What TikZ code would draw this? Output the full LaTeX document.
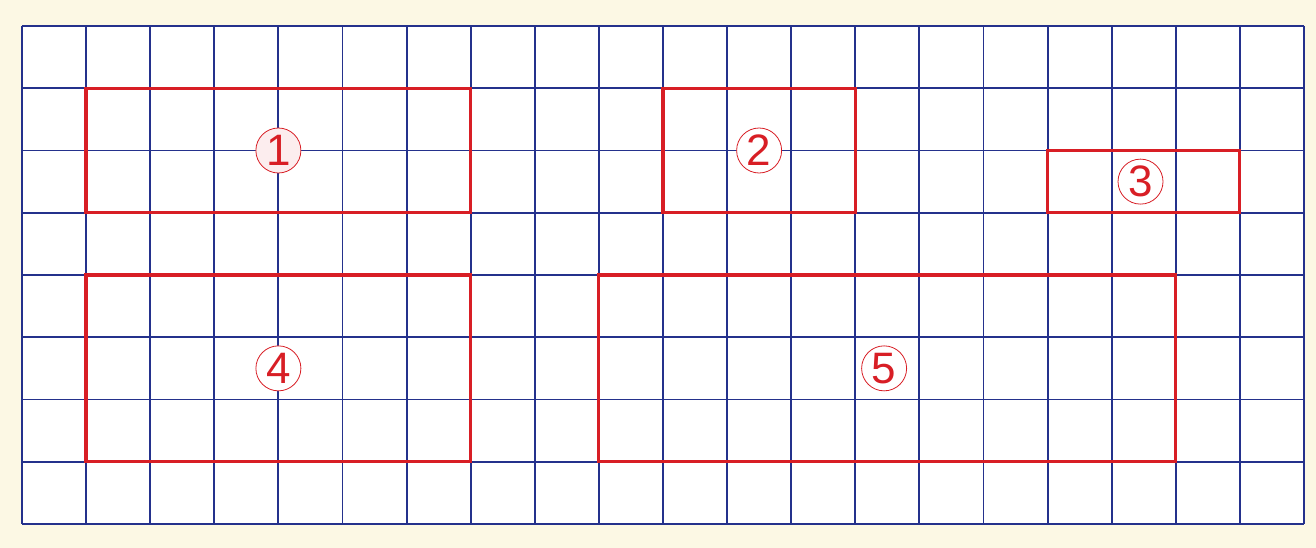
\documentclass[tikz,border=0pt]{standalone}
\usepackage{fontspec}
\newfontfamily\labelfont{Liberation Sans}
\definecolor{paper}{HTML}{FCF8E4}
\definecolor{gridblue}{HTML}{24318C}
\definecolor{boxred}{HTML}{D81E25}
\tikzset{
  gridline/.style={draw=gridblue, line width=1.9pt},
  redbox/.style={draw=boxred, line width=3.2pt},
  numlabel/.style={circle, draw=boxred, line width=0.8pt, text=boxred, font=\labelfont\fontsize{44}{44}\selectfont, minimum size=45pt, inner sep=0pt},
}
\begin{document}
\begin{tikzpicture}[x=64.1pt, y=-62.25pt]
  \useasboundingbox (-0.3432,-0.4177) rectangle (20.188,8.3855);
  \fill[paper] (-0.3432,-0.4177) rectangle (20.188,8.3855);
  \fill[white] (0,0) rectangle (20,8);
  % grid
  \foreach \i in {0,...,20} \draw[gridline] (\i,0) -- (\i,8);
  \foreach \j in {0,...,8} \draw[gridline] (0,\j) -- (20,\j);
  % red rectangles
  \draw[redbox] (1,1) rectangle (7,3);
  \draw[redbox] (10,1) rectangle (13,3);
  \draw[redbox] (16,2) rectangle (19,3);
  \draw[redbox] (1,4) rectangle (7,7);
  \draw[redbox] (9,4) rectangle (18,7);
  % labels
  \node[numlabel, fill=boxred!8] (n1) at (4,2) {1};
  \node[numlabel, fill=white] (n2) at (11.5,2) {2};
  \node[numlabel, fill=white] (n3) at (17.45,2.5) {3};
  \node[numlabel, fill=white] (n4) at (4,5.5) {4};
  \node[numlabel, fill=white] (n5) at (13.45,5.5) {5};
\end{tikzpicture}
\end{document}
